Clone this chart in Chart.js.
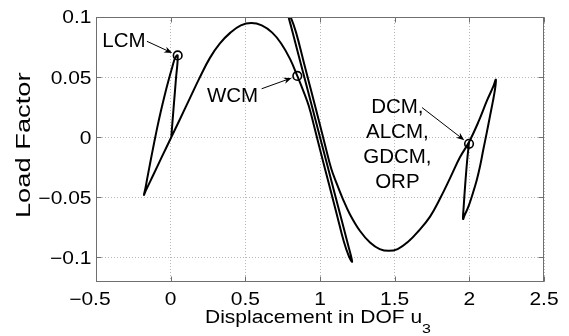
<!DOCTYPE html>
<html>
<head>
<meta charset="utf-8">
<script src="https://cdn.jsdelivr.net/npm/chart.js@4.4.0/dist/chart.umd.min.js"></script>
<style>
  html, body { margin: 0; padding: 0; background: #fff; }
  #wrap { width: 569px; height: 336px; }
</style>
</head>
<body>
<div id="wrap"><canvas id="c" width="569" height="336"></canvas></div>
<script>
// Equilibrium path of the structure: displacement u3 against load factor
const pathU = [
  0.004, 0.020, 0.035, 0.047,
  0.030, 0.010, -0.015, -0.040, -0.065, -0.090, -0.113, -0.135, -0.155, -0.170, -0.179,
  -0.165, -0.115, -0.060, 0.004, 0.062, 0.129, 0.196, 0.263, 0.33, 0.40, 0.47, 0.54, 0.61, 0.68, 0.74, 0.80, 0.848,
  0.89, 0.925, 0.962, 1.01, 1.06, 1.11, 1.16, 1.195, 1.215,
  1.19, 1.10, 1.0, 0.90, 0.81, 0.784,
  0.805, 0.84, 0.89, 0.94, 0.99, 1.038, 1.075, 1.11, 1.152, 1.2, 1.268, 1.335, 1.40, 1.46, 1.52, 1.59, 1.66, 1.737, 1.804, 1.871, 1.938, 1.998,
  2.06, 2.12, 2.16, 2.178,
  2.172, 2.158, 2.139, 2.117, 2.094, 2.072, 2.049, 2.020, 1.993, 1.968, 1.958,
  1.962, 1.972, 1.985, 1.998
];
const pathLoad = [
  0.000, 0.025, 0.048, 0.068,
  0.066, 0.058, 0.047, 0.035, 0.022, 0.008, -0.006, -0.020, -0.033, -0.043, -0.048,
  -0.044, -0.031, -0.0166, 0.000, 0.015, 0.0325, 0.050, 0.066, 0.078, 0.087, 0.093, 0.095, 0.093, 0.087, 0.078, 0.065, 0.051,
  0.038, 0.026, 0.0085, -0.015, -0.039, -0.063, -0.087, -0.0995, -0.1035,
  -0.0905, -0.0476, 0.000, 0.0476, 0.0905, 0.1035,
  0.0995, 0.087, 0.063, 0.039, 0.015, -0.0085, -0.026, -0.038, -0.051, -0.064, -0.078, -0.0875, -0.093, -0.0945, -0.093, -0.087, -0.078, -0.066, -0.051, -0.034, -0.0165, -0.004,
  0.0125, 0.031, 0.042, 0.048,
  0.040, 0.030, 0.018, 0.004, -0.010, -0.024, -0.036, -0.048, -0.058, -0.065, -0.068,
  -0.058, -0.040, -0.020, -0.004
];

// Points where each solution method stops
const stopU = [0.047, 0.848, 1.998];
const stopLoad = [0.068, 0.051, -0.0055];
const stopNames = [['LCM'], ['WCM'], ['DCM,', 'ALCM,', 'GDCM,', 'ORP']];

// Axis ticks
const xTicks = [-0.5, 0, 0.5, 1, 1.5, 2, 2.5];
const yTicks = [-0.1, -0.05, 0, 0.05, 0.1];

// Where each label sits and where its arrow starts (data units)
const notePlace = [
  { u: -0.313, load: 0.0814, fromU: -0.159, fromLoad: 0.0798 },
  { u: 0.414, load: 0.0352, fromU: 0.609, fromLoad: 0.0403 },
  { u: 1.518, load: 0.0264, fromU: 1.683, fromLoad: 0.0247 }
];

const FONT = '"Liberation Sans", Arial, Helvetica, sans-serif';
const AXIS_GREY = '#6f6f6f';

function fmt(v) {
  return String(Math.abs(v));
}

function textAt(ctx, txt, x, yMid, size, align, sy) {
  ctx.save();
  ctx.font = size + 'px ' + FONT;
  ctx.textAlign = align;
  ctx.textBaseline = 'alphabetic';
  ctx.translate(x, yMid + 0.358 * size * sy);
  ctx.scale(1, sy);
  ctx.fillText(txt, 0, 0);
  ctx.restore();
}

const frame = {
  id: 'frame',
  afterDraw(chart) {
    const ctx = chart.ctx;
    const a = chart.chartArea;
    const xs = chart.scales.x, ys = chart.scales.y;
    const L = Math.round(a.left) + 0.5, R = Math.round(a.right) - 0.5;
    const T = Math.round(a.top) + 0.5, B = Math.round(a.bottom) - 0.5;

    // axes box with inward ticks
    ctx.save();
    ctx.strokeStyle = AXIS_GREY;
    ctx.lineWidth = 1;
    ctx.strokeRect(L, T, R - L, B - T);
    ctx.beginPath();
    xTicks.forEach(v => {
      const px = Math.round(xs.getPixelForValue(v)) + 0.5;
      ctx.moveTo(px, B); ctx.lineTo(px, B - 5);
      ctx.moveTo(px, T); ctx.lineTo(px, T + 5);
    });
    yTicks.forEach(v => {
      const py = Math.round(ys.getPixelForValue(v)) + 0.5;
      ctx.moveTo(L, py); ctx.lineTo(L + 5, py);
      ctx.moveTo(R, py); ctx.lineTo(R - 5, py);
    });
    ctx.stroke();
    ctx.restore();

    ctx.fillStyle = '#000';
    const TS = 21, SY = 0.85;
    // y tick labels
    yTicks.forEach(v => {
      const t = (v < 0 ? '\u2212' : '') + fmt(v);
      textAt(ctx, t, a.left - 4.5, ys.getPixelForValue(v), TS, 'right', SY);
    });
    // x tick labels: number centred on the tick, minus sign hung to its left
    xTicks.forEach(v => {
      const px = xs.getPixelForValue(v);
      const t = fmt(v);
      textAt(ctx, t, px, a.bottom + 17.5, TS, 'center', SY);
      if (v < 0) {
        ctx.save();
        ctx.font = TS + 'px ' + FONT;
        const w = ctx.measureText(t).width;
        ctx.restore();
        textAt(ctx, '\u2212', px - w / 2, a.bottom + 17.5, TS, 'right', SY);
      }
    });

    // x axis title with subscript
    ctx.save();
    const main = 'Displacement in DOF u', sub = '3';
    ctx.font = '21px ' + FONT;
    const wm = ctx.measureText(main).width;
    ctx.font = '16px ' + FONT;
    const ws = ctx.measureText(sub).width;
    const x0 = (a.left + a.right) / 2 - (wm + ws) / 2 - 2;
    ctx.textAlign = 'left';
    ctx.textBaseline = 'alphabetic';
    ctx.translate(x0, a.bottom + 41);
    ctx.scale(1, SY);
    ctx.font = '21px ' + FONT;
    ctx.fillText(main, 0, 0);
    ctx.font = '16px ' + FONT;
    ctx.fillText(sub, wm, 12);
    ctx.restore();

    // y axis title
    ctx.save();
    ctx.translate(a.left - 66.5, (a.top + a.bottom) / 2 - 4);
    ctx.rotate(-Math.PI / 2);
    ctx.font = '21px ' + FONT;
    ctx.textAlign = 'center';
    ctx.textBaseline = 'alphabetic';
    ctx.scale(1.3, 1);
    ctx.fillText('Load Factor', 0, 0);
    ctx.restore();

    // method labels with arrows pointing to the stop points
    notePlace.forEach((p, i) => {
      const lines = stopNames[i];
      const cx = xs.getPixelForValue(p.u);
      const cy = ys.getPixelForValue(p.load);
      lines.forEach((ln, k) => textAt(ctx, ln, cx, cy + k * 25, 20.5, 'center', 1));
      const sx = xs.getPixelForValue(p.fromU), sy = ys.getPixelForValue(p.fromLoad);
      const mx = xs.getPixelForValue(stopU[i]), my = ys.getPixelForValue(stopLoad[i]);
      const dx = mx - sx, dy = my - sy, d = Math.hypot(dx, dy);
      const ux = dx / d, uy = dy / d;
      const tx = mx - ux * 6, ty = my - uy * 6;
      const hl = 8, hw = 3.2;
      ctx.save();
      ctx.strokeStyle = '#000';
      ctx.lineWidth = 1;
      ctx.beginPath();
      ctx.moveTo(sx, sy);
      ctx.lineTo(tx - ux * hl * 0.7, ty - uy * hl * 0.7);
      ctx.stroke();
      ctx.beginPath();
      ctx.moveTo(tx, ty);
      ctx.lineTo(tx - ux * hl - uy * hw, ty - uy * hl + ux * hw);
      ctx.lineTo(tx - ux * hl * 0.7, ty - uy * hl * 0.7);
      ctx.lineTo(tx - ux * hl + uy * hw, ty - uy * hl - ux * hw);
      ctx.closePath();
      ctx.fillStyle = '#000';
      ctx.fill();
      ctx.restore();
    });
  }
};

const gridOpts = { color: '#b8b8b8', lineWidth: 1, drawTicks: false };
const borderOpts = { display: false, dash: [1, 2] };

new Chart(document.getElementById('c'), {
  type: 'line',
  data: {
    datasets: [
      {
        data: pathU.map((u, i) => ({ x: u, y: pathLoad[i] })),
        borderColor: '#000',
        borderWidth: 2,
        pointRadius: 0,
        tension: 0.4,
        fill: false
      },
      {
        data: stopU.map((u, i) => ({ x: u, y: stopLoad[i] })),
        showLine: false,
        pointRadius: 4.3,
        pointBorderWidth: 1.6,
        pointBorderColor: '#000',
        pointBackgroundColor: 'rgba(0,0,0,0)'
      }
    ]
  },
  options: {
    responsive: false,
    animation: false,
    events: [],
    layout: { padding: { left: 0, right: 25, top: 17, bottom: 0 } },
    plugins: { legend: { display: false }, tooltip: { enabled: false } },
    scales: {
      x: {
        type: 'linear',
        min: -0.5, max: 2.5,
        afterBuildTicks: s => { s.ticks = xTicks.map(v => ({ value: v })); },
        afterFit: s => { s.height = 54.5; },
        ticks: { display: false },
        grid: gridOpts,
        border: borderOpts
      },
      y: {
        type: 'linear',
        min: -0.12, max: 0.1,
        afterBuildTicks: s => { s.ticks = yTicks.map(v => ({ value: v })); },
        afterFit: s => { s.width = 96; },
        ticks: { display: false },
        grid: gridOpts,
        border: borderOpts
      }
    }
  },
  plugins: [frame]
});
</script>
</body>
</html>
